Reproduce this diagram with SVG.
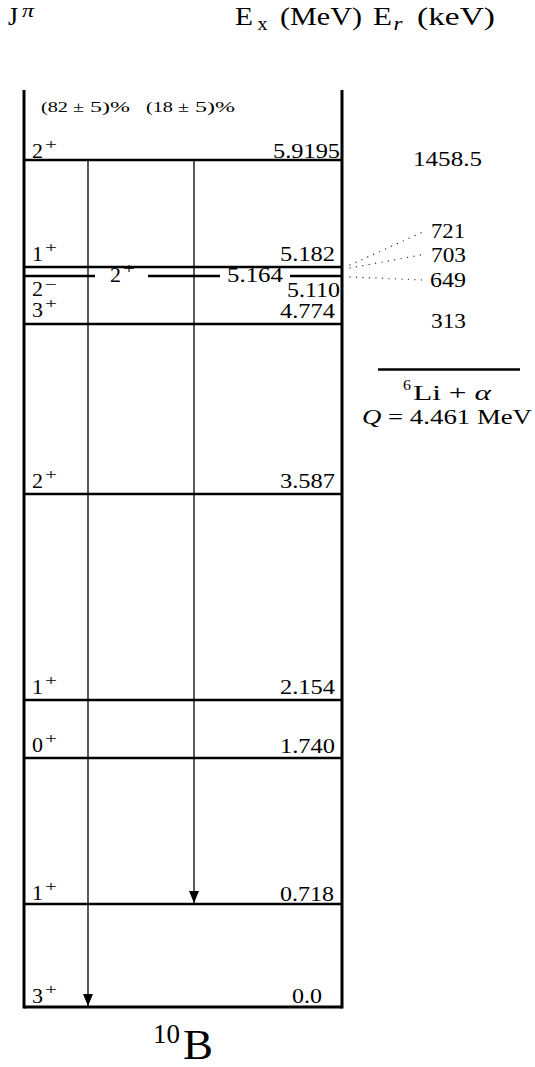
<svg xmlns="http://www.w3.org/2000/svg" width="535" height="1067" viewBox="0 0 535 1067">
<defs>
<style>
text{font-family:"Liberation Serif","Times New Roman",serif;fill:#000}
.lvl{stroke:#000;stroke-width:2.5;fill:none}
.frame{stroke:#000;stroke-width:3;fill:none}
.arr{stroke:#000;stroke-width:1.3;fill:none}
.dot{stroke:#333;stroke-width:1.4;stroke-dasharray:0 6.5;stroke-linecap:round;fill:none}
.v{font-size:20px}
.j{font-size:20px}
.s{font-size:14px}
.h{font-size:26px}
.hs{font-size:18px}
.it{font-style:italic}
</style>
<marker id="ah" viewBox="0 0 12 10" refX="12" refY="5" markerWidth="12" markerHeight="10" markerUnits="userSpaceOnUse" orient="auto">
<path d="M0,0 L12,5 L0,10 z" fill="#000"/>
</marker>
</defs>
<rect width="535" height="1067" fill="#fff"/>

<g id="header">
<text class="h" x="8" y="25" textLength="10" lengthAdjust="spacingAndGlyphs">J</text>
<text class="hs it" x="22" y="17" textLength="12" lengthAdjust="spacingAndGlyphs">π</text>
<text class="h" x="235" y="25" textLength="18" lengthAdjust="spacingAndGlyphs">E</text>
<text class="hs" x="257.5" y="29.5" textLength="10" lengthAdjust="spacingAndGlyphs">x</text>
<text class="h" x="280" y="25" textLength="82" lengthAdjust="spacingAndGlyphs">(MeV)</text>
<text class="h" x="373" y="25" textLength="19" lengthAdjust="spacingAndGlyphs">E</text>
<text class="hs it" x="393.5" y="29.5" textLength="9" lengthAdjust="spacingAndGlyphs">r</text>
<text class="h" x="417" y="25" textLength="78" lengthAdjust="spacingAndGlyphs">(keV)</text>
</g>

<g id="frame">
<line class="frame" x1="24" y1="90" x2="24" y2="1008.5"/>
<line class="frame" x1="342" y1="90" x2="342" y2="1008.5"/>
<line class="frame" x1="24" y1="1007" x2="342" y2="1007"/>
</g>

<g id="branching">
<text class="s" x="41" y="112" textLength="27" lengthAdjust="spacingAndGlyphs">(82</text>
<text class="s" x="73" y="112" textLength="11" lengthAdjust="spacingAndGlyphs">±</text>
<text class="s" x="90" y="112" textLength="40" lengthAdjust="spacingAndGlyphs">5)%</text>
<text class="s" x="146" y="112" textLength="27" lengthAdjust="spacingAndGlyphs">(18</text>
<text class="s" x="178" y="112" textLength="11" lengthAdjust="spacingAndGlyphs">±</text>
<text class="s" x="195" y="112" textLength="40" lengthAdjust="spacingAndGlyphs">5)%</text>
</g>

<g id="level-5.9195">
<line class="lvl" x1="24" y1="160" x2="342" y2="160"/>
<text class="j" x="32" y="158" textLength="11" lengthAdjust="spacingAndGlyphs">2</text>
<text class="s" x="45" y="149" textLength="12" lengthAdjust="spacingAndGlyphs">+</text>
<text class="v" x="273" y="158" textLength="67" lengthAdjust="spacingAndGlyphs">5.9195</text>
</g>

<g id="level-5.182">
<line class="lvl" x1="24" y1="267" x2="342" y2="267"/>
<text class="j" x="32" y="261" textLength="11" lengthAdjust="spacingAndGlyphs">1</text>
<text class="s" x="45" y="252" textLength="12" lengthAdjust="spacingAndGlyphs">+</text>
<text class="v" x="280" y="261" textLength="55" lengthAdjust="spacingAndGlyphs">5.182</text>
</g>

<g id="level-5.164">
<line class="lvl" x1="24" y1="276" x2="95" y2="276"/>
<line class="lvl" x1="148" y1="276" x2="220" y2="276"/>
<line class="lvl" x1="290" y1="276" x2="342" y2="276"/>
<text class="j" x="110" y="281.5" textLength="11" lengthAdjust="spacingAndGlyphs">2</text>
<text class="s" x="123" y="272.5" textLength="12" lengthAdjust="spacingAndGlyphs">+</text>
<text class="v" x="227" y="282" textLength="56" lengthAdjust="spacingAndGlyphs">5.164</text>
</g>

<g id="level-5.110">
<text class="j" x="32" y="296" textLength="11" lengthAdjust="spacingAndGlyphs">2</text>
<text class="s" x="45" y="288.5" textLength="12" lengthAdjust="spacingAndGlyphs">−</text>
<text class="v" x="287" y="296.5" textLength="53" lengthAdjust="spacingAndGlyphs">5.110</text>
</g>

<g id="level-4.774">
<line class="lvl" x1="24" y1="324" x2="342" y2="324"/>
<text class="j" x="32" y="316.5" textLength="11" lengthAdjust="spacingAndGlyphs">3</text>
<text class="s" x="45" y="307.5" textLength="12" lengthAdjust="spacingAndGlyphs">+</text>
<text class="v" x="280" y="318" textLength="55" lengthAdjust="spacingAndGlyphs">4.774</text>
</g>

<g id="level-3.587">
<line class="lvl" x1="24" y1="494" x2="342" y2="494"/>
<text class="j" x="32" y="488" textLength="11" lengthAdjust="spacingAndGlyphs">2</text>
<text class="s" x="45" y="479" textLength="12" lengthAdjust="spacingAndGlyphs">+</text>
<text class="v" x="280" y="488" textLength="55" lengthAdjust="spacingAndGlyphs">3.587</text>
</g>

<g id="level-2.154">
<line class="lvl" x1="24" y1="700" x2="342" y2="700"/>
<text class="j" x="32" y="694" textLength="11" lengthAdjust="spacingAndGlyphs">1</text>
<text class="s" x="45" y="685" textLength="12" lengthAdjust="spacingAndGlyphs">+</text>
<text class="v" x="280" y="694" textLength="55" lengthAdjust="spacingAndGlyphs">2.154</text>
</g>

<g id="level-1.740">
<line class="lvl" x1="24" y1="758" x2="342" y2="758"/>
<text class="j" x="32" y="752" textLength="11" lengthAdjust="spacingAndGlyphs">0</text>
<text class="s" x="45" y="743" textLength="12" lengthAdjust="spacingAndGlyphs">+</text>
<text class="v" x="280" y="752.5" textLength="55" lengthAdjust="spacingAndGlyphs">1.740</text>
</g>

<g id="level-0.718">
<line class="lvl" x1="24" y1="904" x2="342" y2="904"/>
<text class="j" x="32" y="900" textLength="11" lengthAdjust="spacingAndGlyphs">1</text>
<text class="s" x="45" y="891" textLength="12" lengthAdjust="spacingAndGlyphs">+</text>
<text class="v" x="280" y="900.5" textLength="54" lengthAdjust="spacingAndGlyphs">0.718</text>
</g>

<g id="level-0.0">
<text class="j" x="32" y="1003" textLength="11" lengthAdjust="spacingAndGlyphs">3</text>
<text class="s" x="45" y="994" textLength="12" lengthAdjust="spacingAndGlyphs">+</text>
<text class="v" x="292" y="1003" textLength="30" lengthAdjust="spacingAndGlyphs">0.0</text>
</g>

<g id="nucleus">
<text x="153" y="1043" style="font-size:28px" textLength="27" lengthAdjust="spacingAndGlyphs">10</text>
<text x="183" y="1059" style="font-size:42px" textLength="30" lengthAdjust="spacingAndGlyphs">B</text>
</g>

<g id="resonances">
<text class="v" x="413" y="166" textLength="69" lengthAdjust="spacingAndGlyphs">1458.5</text>
<text class="v" x="431" y="238" textLength="34" lengthAdjust="spacingAndGlyphs">721</text>
<text class="v" x="431" y="261.5" textLength="35" lengthAdjust="spacingAndGlyphs">703</text>
<text class="v" x="430" y="286.5" textLength="36" lengthAdjust="spacingAndGlyphs">649</text>
<text class="v" x="431" y="328" textLength="35" lengthAdjust="spacingAndGlyphs">313</text>
</g>

<g id="threshold">
<line class="lvl" x1="378" y1="369.5" x2="520" y2="369.5"/>
<text class="s" x="403" y="390" textLength="8" lengthAdjust="spacingAndGlyphs">6</text>
<text class="v" x="413" y="400" textLength="78" lengthAdjust="spacingAndGlyphs">Li + <tspan class="it">α</tspan></text>
<text class="v" x="362" y="423.5" textLength="170" lengthAdjust="spacingAndGlyphs"><tspan class="it">Q</tspan> = 4.461 MeV</text>
</g>

<g id="connectors">
<line class="arr" x1="88" y1="161" x2="88" y2="1006" marker-end="url(#ah)"/>
<line class="arr" x1="194" y1="161" x2="194" y2="903" marker-end="url(#ah)"/>
<line class="dot" x1="350" y1="265" x2="425" y2="231"/>
<line class="dot" x1="350" y1="268" x2="426" y2="254"/>
<line class="dot" x1="350" y1="277" x2="424" y2="280"/>
</g>
</svg>
